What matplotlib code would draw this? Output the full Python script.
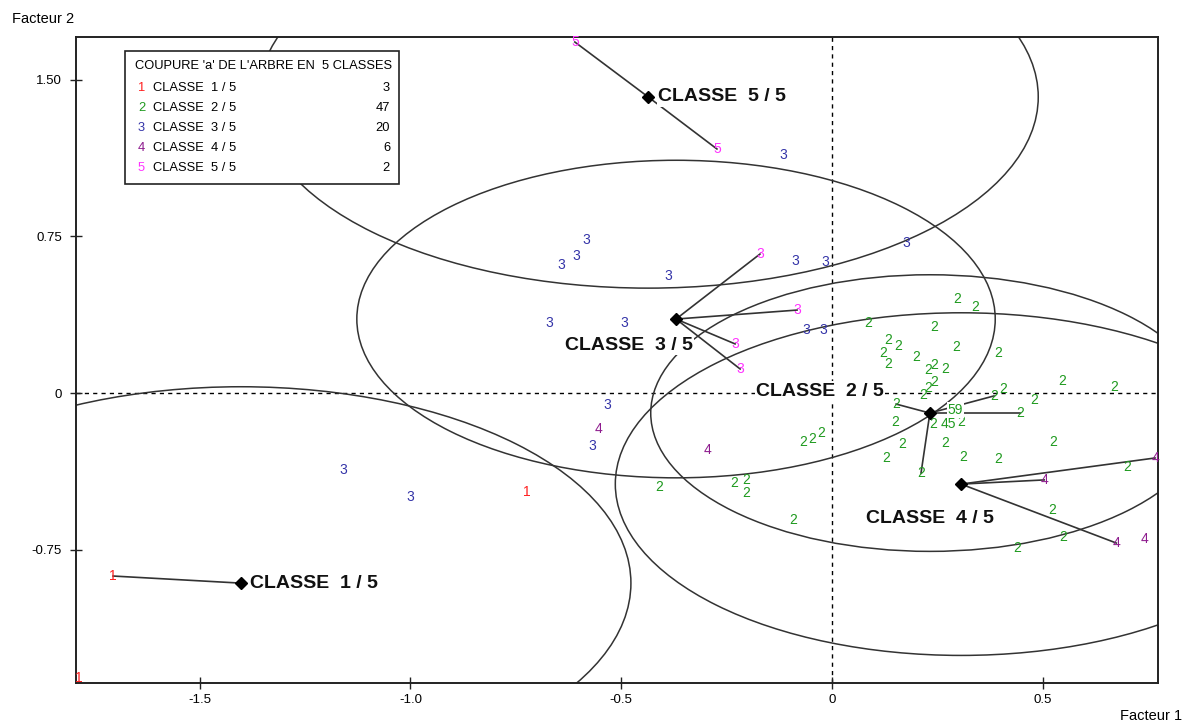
#!/usr/bin/env python3
"""Factor plane (Facteur 1 x Facteur 2) with the 5-class cut of the tree."""

import matplotlib

matplotlib.use("Agg")
import matplotlib.pyplot as plt
from matplotlib.patches import Ellipse, Rectangle

plt.rcParams["font.family"] = ["Liberation Sans", "DejaVu Sans"]

# ---- data -------------------------------------------------------------
CLASS_DIGITS = ["1", "2", "3", "4", "5"]
CLASS_NAMES = ["CLASSE  1 / 5", "CLASSE  2 / 5", "CLASSE  3 / 5", "CLASSE  4 / 5", "CLASSE  5 / 5"]
CLASS_COUNTS = [3, 47, 20, 6, 2]
LEGEND_TITLE = "COUPURE 'a' DE L'ARBRE EN  5 CLASSES"

CENTER_X = [-1.402, 0.232, -0.370, 0.306, -0.436]
CENTER_Y = [-0.910, -0.096, 0.354, -0.436, 1.417]
RADIUS_X = [0.925, 0.662, 0.757, 0.820, 0.925]
RADIUS_Y = [0.940, 0.662, 0.760, 0.820, 0.915]

C1_X = [-1.705, -1.786, -0.723]
C1_Y = [-0.876, -1.364, -0.474]

C2_X = [0.296, 0.339, 0.085, 0.242, 0.133, 0.157, 0.121, 0.133, 0.199, 0.294,
        0.394, 0.228, 0.242, 0.268, 0.242, 0.228, 0.216, 0.546, 0.669, 0.406,
        0.384, 0.479, 0.152, 0.446, 0.149, 0.166, 0.268, 0.524, 0.128, 0.311,
        0.394, 0.211, 0.700, 0.522, 0.548, 0.439, 0.240, 0.306, -0.069, -0.047,
        -0.026, -0.410, -0.232, -0.204, -0.204, -0.093]
C2_Y = [0.450, 0.412, 0.335, 0.316, 0.254, 0.225, 0.191, 0.139, 0.172, 0.220,
        0.191, 0.110, 0.134, 0.115, 0.053, 0.024, -0.010, 0.057, 0.029, 0.019,
        -0.014, -0.034, -0.053, -0.096, -0.139, -0.244, -0.239, -0.235, -0.311, -0.306,
        -0.316, -0.383, -0.354, -0.560, -0.689, -0.742, -0.148, -0.139, -0.235, -0.220,
        -0.191, -0.450, -0.431, -0.416, -0.478, -0.608]

C3_X = [-0.116, -0.583, -0.607, -0.643, -0.389, -0.088, -0.017, 0.176,
        -0.671, -0.493, -0.062, -0.021, -0.534, -0.569, -1.160, -1.001]
C3_Y = [1.139, 0.732, 0.656, 0.613, 0.560, 0.632, 0.627, 0.718,
        0.335, 0.335, 0.302, 0.302, -0.057, -0.254, -0.369, -0.498]
# class 3 individuals shown in magenta (linked to the class centre)
C3P_X = [-0.171, -0.083, -0.230, -0.218]
C3P_Y = [0.665, 0.397, 0.235, 0.115]

C4_X = [-0.553, -0.296, 0.503, 0.766, 0.674, 0.742]
C4_Y = [-0.172, -0.273, -0.416, -0.311, -0.718, -0.699]

C5_X = [-0.610, -0.273]
C5_Y = [1.680, 1.168]

# which points of each class are joined to the centre
C1_LINKS = [0]
C2_LINKS = [22, 31, 23, 20]
C4_LINKS = [2, 3, 4]
C5_LINKS = [0, 1]

EXTRA_TEXT = ["59", "45"]
EXTRA_X = [0.292, 0.277]
EXTRA_Y = [-0.081, -0.148]

# ---- style ------------------------------------------------------------
COLORS = ["#ff2020", "#1f9a1f", "#3434a8", "#8e1c8e", "#ff33ff"]
LINE_COLOR = "#333333"
# label offsets from the class centre, in pixels
LABEL_OFFSETS = [(9, 0, "left"), (-110, 22, "center"), (-47, -26, "center"),
                 (-31, -34, "center"), (10, 0, "left")]

fig = plt.figure(figsize=(11.84, 7.23), dpi=100)
ax = fig.add_axes([76 / 1184, 1 - 683 / 723, (1158 - 76) / 1184, (683 - 37) / 723])
ax.set_xlim(-1.793, 0.773)
ax.set_ylim(-1.388, 1.704)

ax.axhline(0, color="black", linestyle=(0, (3, 3)), linewidth=1.0, zorder=1)
ax.axvline(0, color="black", linestyle=(0, (3, 3)), linewidth=1.0, zorder=1)

for cx, cy, rx, ry in zip(CENTER_X, CENTER_Y, RADIUS_X, RADIUS_Y):
    ax.add_patch(Ellipse((cx, cy), 2 * rx, 2 * ry, fill=False,
                         edgecolor=LINE_COLOR, linewidth=1.1, zorder=2))

points = [(C1_X, C1_Y), (C2_X, C2_Y), (C3_X, C3_Y), (C4_X, C4_Y), (C5_X, C5_Y)]
links = [C1_LINKS, C2_LINKS, [], C4_LINKS, C5_LINKS]

for k, ((xs, ys), idx) in enumerate(zip(points, links)):
    for i in idx:
        ax.plot([CENTER_X[k], xs[i]], [CENTER_Y[k], ys[i]], color=LINE_COLOR,
                linewidth=1.2, zorder=3)
for px, py in zip(C3P_X, C3P_Y):
    ax.plot([CENTER_X[2], px], [CENTER_Y[2], py], color=LINE_COLOR, linewidth=1.2, zorder=3)

for k, (xs, ys) in enumerate(points):
    for px, py in zip(xs, ys):
        ax.text(px, py, CLASS_DIGITS[k], color=COLORS[k], fontsize=10,
                ha="center", va="center", zorder=4)
for px, py in zip(C3P_X, C3P_Y):
    ax.text(px, py, "3", color=COLORS[4], fontsize=10, ha="center", va="center", zorder=4)
for txt, px, py in zip(EXTRA_TEXT, EXTRA_X, EXTRA_Y):
    ax.text(px, py, txt, color=COLORS[1], fontsize=10, ha="center", va="center", zorder=4,
            bbox=dict(facecolor="white", edgecolor="none", pad=0.5))

ax.plot(CENTER_X, CENTER_Y, linestyle="none", marker="D", markersize=6.5,
        color="black", zorder=6)
for k, name in enumerate(CLASS_NAMES):
    dx, dy, ha = LABEL_OFFSETS[k]
    ax.annotate(name, (CENTER_X[k], CENTER_Y[k]), xytext=(dx, dy),
                textcoords="offset pixels", ha=ha, va="center", fontsize=14,
                fontweight="bold", color="#111111", zorder=5,
                bbox=dict(facecolor="white", edgecolor="none", pad=1.0))

ax.set_xticks([-1.5, -1.0, -0.5, 0, 0.5])
ax.set_xticklabels(["-1.5", "-1.0", "-0.5", "0", "0.5"])
ax.set_yticks([-0.75, 0, 0.75, 1.5])
ax.set_yticklabels(["-0.75", "0", "0.75", "1.50"])
ax.tick_params(direction="inout", length=8, width=1.0, labelsize=9.5, color="#222222")
ax.tick_params(axis="y", pad=6)
ax.tick_params(axis="x", pad=4)
for sp in ax.spines.values():
    sp.set_linewidth(1.4)
    sp.set_color("#222222")

fig.text(12 / 1184, 1 - 19 / 723, "Facteur 2", fontsize=10.5, ha="left", va="center")
fig.text(1120 / 1184, 1 - 716 / 723, "Facteur 1", fontsize=10.5, ha="left", va="center")

# legend box
LEG_FS = 9.3
fig.patches.append(Rectangle((125 / 1184, 1 - 184 / 723), 274 / 1184, 133 / 723,
                             transform=fig.transFigure, facecolor="white",
                             edgecolor="#222222", linewidth=1.2, zorder=10))
fig.text(135 / 1184, 1 - 66 / 723, LEGEND_TITLE, fontsize=LEG_FS,
         ha="left", va="center", zorder=11)
for k, (digit, name, count) in enumerate(zip(CLASS_DIGITS, CLASS_NAMES, CLASS_COUNTS)):
    ypix = 88 + 20 * k
    fig.text(138 / 1184, 1 - ypix / 723, digit, fontsize=LEG_FS,
             color=COLORS[k], ha="left", va="center", zorder=11)
    fig.text(153 / 1184, 1 - ypix / 723, name, fontsize=LEG_FS,
             ha="left", va="center", zorder=11)
    fig.text(390 / 1184, 1 - ypix / 723, str(count), fontsize=LEG_FS,
             ha="right", va="center", zorder=11)

fig.savefig("out.png", dpi=100)
